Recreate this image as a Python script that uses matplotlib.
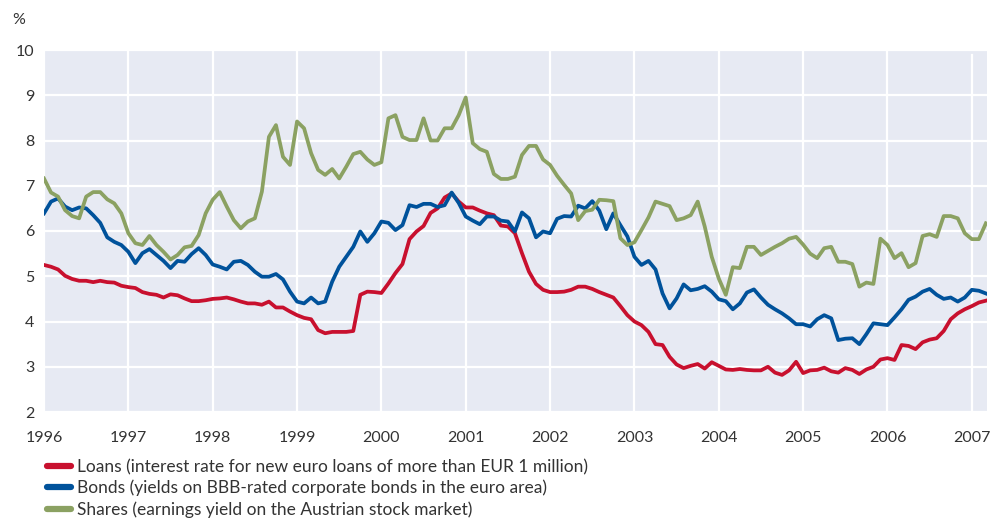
import matplotlib
matplotlib.use("Agg")
import matplotlib.pyplot as plt
import numpy as np
import pandas as pd

start = "1996-01"
n_months = 135  # Jan 1996 .. Mar 2007

loans = [
    5.25, 5.21, 5.15, 5.01, 4.94, 4.90, 4.90, 4.87, 4.90, 4.87, 4.86, 4.79,
    4.76, 4.74, 4.65, 4.61, 4.59, 4.53, 4.60, 4.58, 4.51, 4.45, 4.45, 4.47,
    4.50, 4.51, 4.53, 4.49, 4.44, 4.40, 4.40, 4.37, 4.44, 4.31, 4.31, 4.22,
    4.14, 4.08, 4.05, 3.81, 3.74, 3.77, 3.77, 3.77, 3.79, 4.59, 4.66, 4.65,
    4.63, 4.84, 5.07, 5.27, 5.82, 5.99, 6.11, 6.40, 6.50, 6.74, 6.83, 6.65,
    6.52, 6.52, 6.45, 6.39, 6.35, 6.12, 6.10, 5.95, 5.51, 5.10, 4.83, 4.70,
    4.65, 4.65, 4.66, 4.70, 4.77, 4.77, 4.72, 4.65, 4.59, 4.53, 4.34, 4.14,
    4.00, 3.92, 3.77, 3.50, 3.48, 3.22, 3.05, 2.97, 3.02, 3.06, 2.96, 3.10,
    3.02, 2.94, 2.93, 2.95, 2.93, 2.92, 2.92, 3.00, 2.87, 2.82, 2.92, 3.11,
    2.86, 2.92, 2.93, 2.98, 2.90, 2.87, 2.97, 2.93, 2.84, 2.94, 3.00, 3.16,
    3.19, 3.15, 3.48, 3.46, 3.39, 3.54, 3.60, 3.63, 3.79, 4.05, 4.18, 4.27,
    4.34, 4.42, 4.46,
]

bonds = [
    6.39, 6.65, 6.72, 6.54, 6.46, 6.52, 6.50, 6.35, 6.18, 5.86, 5.76, 5.69,
    5.54, 5.29, 5.51, 5.60, 5.47, 5.34, 5.18, 5.34, 5.32, 5.49, 5.62, 5.47,
    5.26, 5.21, 5.15, 5.32, 5.34, 5.25, 5.10, 4.99, 4.99, 5.05, 4.93, 4.66,
    4.44, 4.40, 4.53, 4.40, 4.44, 4.88, 5.21, 5.43, 5.65, 5.99, 5.76, 5.95,
    6.21, 6.18, 6.02, 6.13, 6.57, 6.53, 6.60, 6.60, 6.53, 6.57, 6.85, 6.62,
    6.32, 6.23, 6.15, 6.32, 6.32, 6.23, 6.21, 5.99, 6.41, 6.28, 5.86, 5.99,
    5.95, 6.27, 6.33, 6.32, 6.56, 6.50, 6.66, 6.45, 6.04, 6.39, 6.13, 5.88,
    5.43, 5.25, 5.34, 5.15, 4.62, 4.29, 4.51, 4.82, 4.69, 4.72, 4.78, 4.66,
    4.49, 4.45, 4.27, 4.40, 4.64, 4.71, 4.53, 4.37, 4.27, 4.18, 4.07, 3.94,
    3.94, 3.89, 4.05, 4.14, 4.07, 3.59, 3.62, 3.63, 3.50, 3.72, 3.96, 3.94,
    3.92, 4.09, 4.27, 4.48, 4.55, 4.66, 4.72, 4.59, 4.50, 4.53, 4.44, 4.53,
    4.70, 4.68, 4.62,
]

shares = [
    7.16, 6.85, 6.76, 6.46, 6.33, 6.28, 6.76, 6.86, 6.86, 6.70, 6.61, 6.39,
    5.95, 5.73, 5.69, 5.89, 5.69, 5.54, 5.37, 5.47, 5.64, 5.67, 5.91, 6.39,
    6.69, 6.86, 6.54, 6.24, 6.06, 6.21, 6.28, 6.87, 8.08, 8.34, 7.64, 7.46,
    8.42, 8.27, 7.72, 7.35, 7.24, 7.37, 7.16, 7.42, 7.70, 7.75, 7.58, 7.46,
    7.52, 8.49, 8.56, 8.08, 8.01, 8.01, 8.49, 8.00, 8.00, 8.27, 8.27, 8.56,
    8.95, 7.94, 7.81, 7.75, 7.26, 7.15, 7.15, 7.20, 7.68, 7.88, 7.88, 7.58,
    7.46, 7.22, 7.02, 6.83, 6.24, 6.44, 6.47, 6.69, 6.68, 6.66, 5.84, 5.69,
    5.75, 6.02, 6.30, 6.65, 6.60, 6.55, 6.24, 6.28, 6.35, 6.65, 6.10, 5.43,
    4.95, 4.59, 5.20, 5.18, 5.65, 5.65, 5.47, 5.56, 5.65, 5.73, 5.83, 5.87,
    5.70, 5.50, 5.40, 5.62, 5.65, 5.32, 5.32, 5.27, 4.77, 4.86, 4.83, 5.83,
    5.69, 5.40, 5.51, 5.20, 5.29, 5.89, 5.93, 5.87, 6.33, 6.33, 6.28, 5.95,
    5.82, 5.82, 6.17,
]

year_ticks = list(range(1996, 2008))
y_ticks = [2, 3, 4, 5, 6, 7, 8, 9, 10]
labels = [
    "Loans (interest rate for new euro loans of more than EUR 1 million)",
    "Bonds (yields on BBB-rated corporate bonds in the euro area)",
    "Shares (earnings yield on the Austrian stock market)",
]
colors = ["#C8102E", "#00529B", "#8BA162"]

dates = pd.period_range(start, periods=n_months, freq="M")
x = np.array([d.year + (d.month - 1) / 12 for d in dates])

plt.rcParams["font.family"] = ["Lato", "DejaVu Sans"]
text_color = "#333333"

fig = plt.figure(figsize=(9.92, 5.2), dpi=100)
ax = fig.add_axes([44 / 992, 1 - 412 / 520, (987 - 44) / 992, (412 - 50) / 520])
ax.set_facecolor("#E7EAF3")
for s in ax.spines.values():
    s.set_visible(False)

for yv in y_ticks:
    ax.axhline(yv, color="white", lw=1.6, zorder=1)
for yr in year_ticks:
    ax.axvline(yr, color="white", lw=1.6, zorder=1, ymax=0.985 if yr == 2007 else 1)

lines = []
for series, c, lab in zip([loans, bonds, shares], colors, labels):
    (ln,) = ax.plot(x, series, color=c, lw=2.7, solid_joinstyle="round", zorder=3, label=lab)
    lines.append(ln)

ax.set_xlim(1996, 2007.18)
ax.set_ylim(2, 10)
ax.set_xticks(year_ticks)
ax.set_xticklabels([str(y) for y in year_ticks])
ax.set_yticks(y_ticks)
ax.tick_params(length=0, labelsize=11.5, colors=text_color)
ax.tick_params(axis="x", pad=14)
ax.tick_params(axis="y", pad=6.8)

fig.text(12 / 992, 1 - 20 / 520, "%", fontsize=11.5, color=text_color, va="center", ha="left")

leg = fig.legend(
    handles=lines,
    labels=labels,
    loc="upper left",
    bbox_to_anchor=(47 / 992, 1 - 459 / 520),
    frameon=False,
    fontsize=12.5,
    handlelength=1.4,
    handletextpad=0.35,
    labelspacing=0.27,
    borderaxespad=0,
    borderpad=0,
)
for t in leg.get_texts():
    t.set_color(text_color)
for h in leg.legend_handles:
    h.set_linewidth(4.5)
    h.set_solid_capstyle("round")

fig.savefig("out.png", dpi=100)
